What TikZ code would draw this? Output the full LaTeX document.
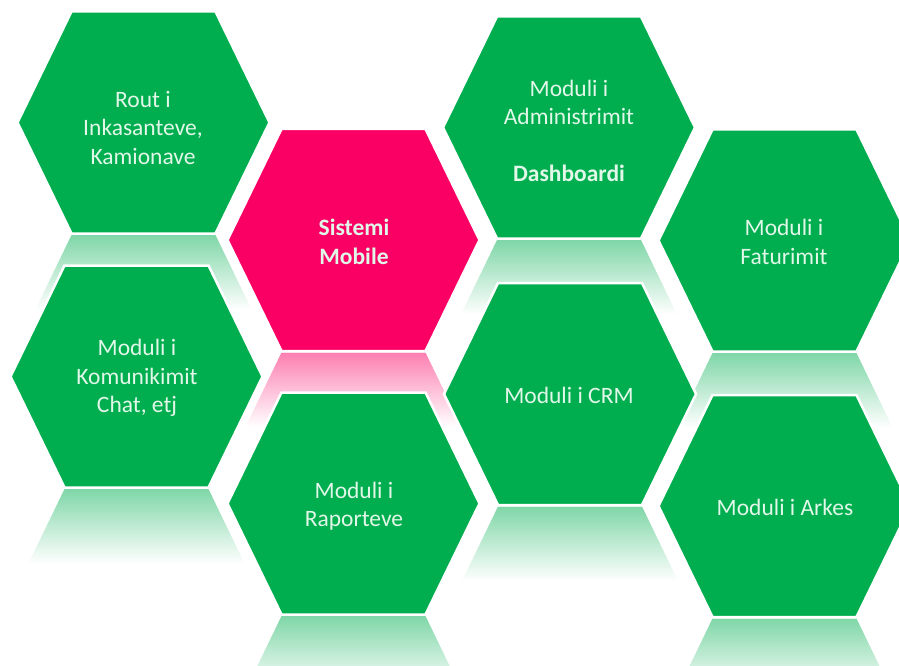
\documentclass[tikz,border=0pt]{standalone}
\usepackage{fontspec}
\setmainfont{Carlito}
\definecolor{hexgreen}{RGB}{0,174,80}
\definecolor{hexpink}{RGB}{250,0,100}
\definecolor{hextext}{RGB}{225,247,232}
\tikzset{
  pics/hexa/.style={code={
    \path[fill=#1, draw=white, line width=2.5pt]
      (-126,0) -- (-72,-111) -- (72,-111) -- (126,0) -- (72,111) -- (-72,111) -- cycle;}},
  pics/refl/.style={code={
    \shade[top color=#1!50!white, bottom color=white]
      (-72,112.5) -- (72,112.5) -- (108,187) -- (-108,187) -- cycle;}},
  hexlabel/.style={text=hextext, font=\fontsize{23.5}{28.5}\selectfont, align=center, inner sep=0pt},
}
\begin{document}
\begin{tikzpicture}[x=1pt,y=-1pt]
\useasboundingbox (0,0) rectangle (899,666);
\clip (0,0) rectangle (899,666);
\fill[white] (0,0) rectangle (899,666);
% reflections
\pic at (143.5,122.5) {refl=hexgreen};
\pic at (353.5,240) {refl=hexpink};
\pic at (569,127.5) {refl=hexgreen};
\pic at (784.5,240.5) {refl=hexgreen};
\pic at (136.5,376.5) {refl=hexgreen};
\pic at (353.5,503.5) {refl=hexgreen};
\pic at (570,394) {refl=hexgreen};
\pic at (784.5,506) {refl=hexgreen};
% hexagons
\pic at (143.5,122.5) {hexa=hexgreen};
\pic at (353.5,240) {hexa=hexpink};
\pic at (569,127.5) {hexa=hexgreen};
\pic at (784.5,240.5) {hexa=hexgreen};
\pic at (136.5,376.5) {hexa=hexgreen};
\pic at (353.5,503.5) {hexa=hexgreen};
\pic at (570,394) {hexa=hexgreen};
\pic at (784.5,506) {hexa=hexgreen};
% labels
\node[hexlabel] (t1) at (143,128) {Rout i\\Inkasanteve,\\Kamionave};
\node[hexlabel, font=\fontsize{23.5}{28.5}\selectfont\bfseries] (t2) at (354,242) {Sistemi\\Mobile};
\node[hexlabel] (t3) at (569,131) {Moduli i\\Administrimit\\[28.5pt]\textbf{Dashboardi}};
\node[hexlabel] (t4) at (784,242) {Moduli i\\Faturimit};
\node[hexlabel] (t5) at (137,378) {Moduli i\\Komunikimit\\Chat, etj};
\node[hexlabel] (t6) at (354,506) {Moduli i\\Raporteve};
\node[hexlabel] (t7) at (569,395) {Moduli i CRM};
\node[hexlabel] (t8) at (785,507) {Moduli i Arkes};
\end{tikzpicture}
\end{document}
